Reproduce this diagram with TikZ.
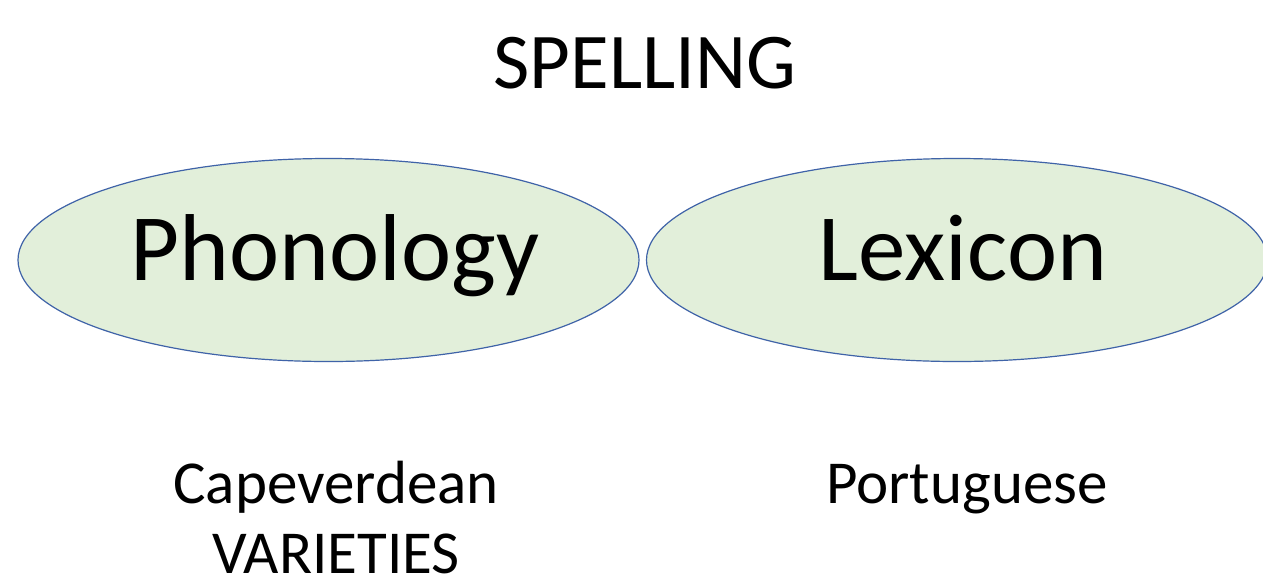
\documentclass[tikz,border=0pt]{standalone}
\usepackage{fontspec}
\setmainfont{Carlito}
\usetikzlibrary{shapes.geometric}
\definecolor{ellfill}{HTML}{E2EFDA}
\definecolor{elldraw}{HTML}{3F63A8}
\begin{document}
\begin{tikzpicture}[x=1pt,y=-1pt,
  oval/.style={ellipse, draw=elldraw, fill=ellfill, line width=1.2pt, inner sep=0pt, minimum width=621pt, minimum height=203pt},
  big/.style={font=\fontsize{95}{95}\selectfont, anchor=base, inner sep=0pt},
  title/.style={font=\fontsize{79}{79}\selectfont, anchor=base, inner sep=0pt},
  small/.style={font=\fontsize{61}{70}\selectfont, anchor=base, inner sep=0pt, align=center}]
\useasboundingbox (0,0) rectangle (1263,579);
\fill[white] (0,0) rectangle (1263,579);
\node[title] (spelling) at (645,88) {SPELLING};
\node[oval] (phon) at (328.5,260) {};
\node[oval] (lex) at (957,260) {};
\node[big] (phontxt) at ([shift={(6.5,20)}]phon.center) {Phonology};
\node[big] (lextxt) at ([shift={(6,20)}]lex.center) {Lexicon};
\node[small] (cape) at (336,573) {Capeverdean\\VARIETIES};
\node[small] (port) at (967,503) {Portuguese};
\end{tikzpicture}
\end{document}
